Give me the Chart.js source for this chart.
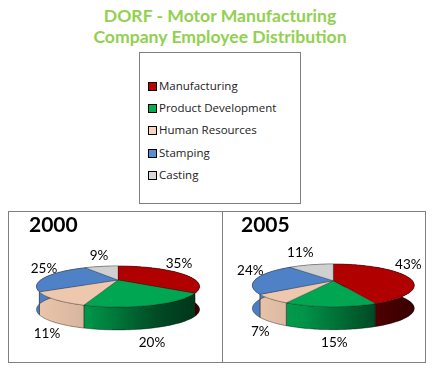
<!DOCTYPE html>
<html>
<head>
<meta charset="utf-8">
<title>DORF - Motor Manufacturing</title>
<script src="https://cdn.jsdelivr.net/npm/chart.js@4"></script>
<style>
  html, body { margin: 0; padding: 0; background: #fff; }
  body { position: relative; width: 433px; height: 374px; overflow: hidden; font-family: Lato, sans-serif; }
  #title {
    position: absolute; left: 0; top: 6px; width: 440px; text-align: center;
    color: #92d050; font-weight: bold; font-size: 17.6px; line-height: 20.5px;
  }
  #legend {
    position: absolute; left: 139px; top: 52px; width: 160px; height: 150px;
    border: 1px solid #7f7f7f; box-sizing: content-box;
    font-family: "Open Sans", sans-serif; font-size: 11.5px; color: #222;
  }
  .item { position: absolute; left: 8px; height: 16px; line-height: 16px; white-space: nowrap; }
  .item i {
    position: absolute; left: 0; top: 4px; width: 7px; height: 7px; border: 1px solid #000;
  }
  .item span { margin-left: 11px; }
  .box { position: absolute; top: 211px; height: 152px; box-sizing: border-box; border: 1px solid #7f7f7f; }
  canvas { position: absolute; display: block; }
</style>
</head>
<body>
<div id="title">DORF - Motor Manufacturing<br>Company Employee Distribution</div>
<div id="legend"></div>
<div class="box" style="left:8px;width:215px"></div>
<div class="box" style="left:222px;width:204px"></div>
<canvas id="pie2000" width="214" height="151" style="left:8px;top:211px"></canvas>
<canvas id="pie2005" width="204" height="151" style="left:222px;top:211px"></canvas>
<script>
const categories = ["Manufacturing", "Product Development", "Human Resources", "Stamping", "Casting"];
const values2000 = [35, 20, 11, 25, 9];
const values2005 = [43, 15, 7, 24, 11];

const sliceColors = ["#b00000", "#00a651", "#eec8ae", "#4f81c7", "#d0d0d0"];
const legendColors = ["#c00000", "#00b050", "#fad4b8", "#558ed5", "#d9d9d9"];
const legendTops = [25, 47, 69, 92, 114];

// label offsets from the pie centre, per slice
const labelPos2000 = [[61, -16], [34, 63], [-71, 54], [-74, -11], [-19, -24]];
const labelPos2005 = [[75, -16], [1, 62], [-73, 51], [-83, -10], [-33, -28]];

// legend
const legendEl = document.getElementById("legend");
categories.forEach((c, i) => {
  const d = document.createElement("div");
  d.className = "item";
  d.style.top = legendTops[i] + "px";
  d.innerHTML = `<i style="background:${legendColors[i]}"></i><span>${c}</span>`;
  legendEl.appendChild(d);
});

// fake 3D: perspective tilt of the flat pie, k = how much bigger the front is
const pie3d = {
  id: "pie3d",
  beforeDatasetDraw(chart) {
    const { k, tilt, depth } = chart.options.plugins.pie3d;
    const arcs = chart.getDatasetMeta(0).data;
    const { ctx } = chart;
    const first = arcs[0];
    const R = first.outerRadius;
    const project = (a) => {
      const x = Math.cos(a), y = Math.sin(a), w = 1 - k * y;
      return [first.x + R * x / w, first.y + R * tilt * y / w];
    };
    const rim = (arc) => {
      const pts = [];
      const n = Math.max(4, Math.ceil((arc.endAngle - arc.startAngle) * 40));
      for (let i = 0; i <= n; i++) pts.push(project(arc.startAngle + (arc.endAngle - arc.startAngle) * i / n));
      return pts;
    };

    const shade = ctx.createLinearGradient(first.x - R, 0, first.x + R, 0);
    shade.addColorStop(0, "rgba(0,0,0,0.02)");
    shade.addColorStop(0.3, "rgba(0,0,0,0.1)");
    shade.addColorStop(0.6, "rgba(0,0,0,0.4)");
    shade.addColorStop(0.75, "rgba(0,0,0,0.55)");
    shade.addColorStop(1, "rgba(0,0,0,0.68)");

    ctx.save();
    ctx.lineJoin = "round";
    // side wall
    arcs.forEach((arc) => {
      const pts = rim(arc);
      ctx.beginPath();
      pts.forEach(([x, y], i) => (i ? ctx.lineTo(x, y) : ctx.moveTo(x, y)));
      pts.slice().reverse().forEach(([x, y]) => ctx.lineTo(x, y + depth));
      ctx.closePath();
      ctx.fillStyle = arc.options.backgroundColor;
      ctx.fill();
      ctx.fillStyle = shade;
      ctx.fill();
      ctx.strokeStyle = "rgba(0,0,0,0.55)";
      ctx.lineWidth = 0.7;
      ctx.stroke();
    });
    // top surface
    arcs.forEach((arc) => {
      ctx.beginPath();
      ctx.moveTo(first.x, first.y);
      rim(arc).forEach(([x, y]) => ctx.lineTo(x, y));
      ctx.closePath();
      ctx.fillStyle = arc.options.backgroundColor;
      ctx.fill();
      ctx.strokeStyle = "rgba(0,0,0,0.4)";
      ctx.lineWidth = 0.6;
      ctx.stroke();
    });
    ctx.restore();
    return false;
  },
  afterDraw(chart) {
    const { labels, year, yearX } = chart.options.plugins.pie3d;
    const { ctx } = chart;
    const first = chart.getDatasetMeta(0).data[0];
    const vals = chart.data.datasets[0].data;
    ctx.save();
    ctx.fillStyle = "#000";
    ctx.textAlign = "center";
    ctx.textBaseline = "middle";
    ctx.font = "13.5px Lato";
    vals.forEach((v, i) => {
      ctx.fillText(v + "%", first.x + labels[i][0], first.y + labels[i][1]);
    });
    ctx.font = "bold 21px Lato";
    ctx.textAlign = "left";
    ctx.fillText(year, yearX, 14);
    ctx.restore();
  }
};

function makePie(id, values, padding, radius, settings) {
  return new Chart(document.getElementById(id), {
    type: "pie",
    data: {
      labels: categories,
      datasets: [{ data: values, backgroundColor: sliceColors }]
    },
    options: {
      responsive: false,
      animation: false,
      radius,
      layout: { padding },
      plugins: {
        legend: { display: false },
        tooltip: { enabled: false },
        pie3d: settings
      }
    },
    plugins: [pie3d]
  });
}

makePie("pie2000", values2000, { left: 6, bottom: 13 }, 77.3,
  { k: 0.317, tilt: 0.238, depth: 23, labels: labelPos2000, year: "2000", yearX: 21 });
makePie("pie2005", values2005, { left: 18.6, bottom: 11.6 }, 79,
  { k: 0.218, tilt: 0.257, depth: 23, labels: labelPos2005, year: "2005", yearX: 19 });
</script>
</body>
</html>
